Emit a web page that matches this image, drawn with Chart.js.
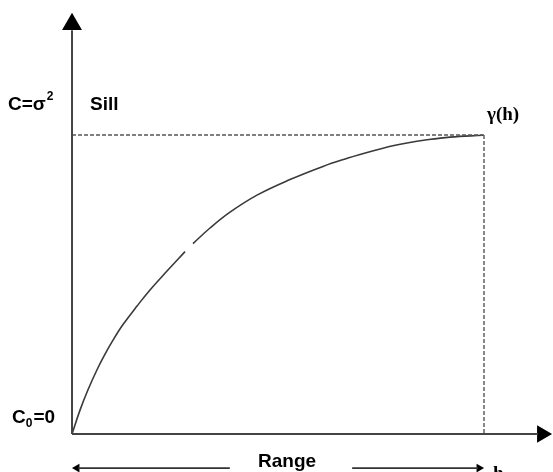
<!DOCTYPE html>
<html><head><meta charset="utf-8">
<script src="https://cdn.jsdelivr.net/npm/chart.js@4/dist/chart.umd.min.js"></script>
<style>html,body{margin:0;padding:0;background:#fff}#wrap{width:553px;height:472px;position:relative}</style>
</head><body><div id="wrap"><canvas id="c"></canvas></div>
<script>
// Semivariogram values (lag h in units where range = 10, gamma in units of sill)
const lagH   = [0, 0.194, 0.388, 0.607, 0.801, 0.995, 1.238, 1.578, 1.893, 2.306, 2.743, 2.84, 2.937, 3.350, 3.835, 4.490, 5.291, 6.092, 6.699, 6.990, 7.549, 8.131, 8.617, 9.175, 9.976];
const gammaH = [0, 0.080, 0.148, 0.215, 0.267, 0.314, 0.366, 0.428, 0.482, 0.545, 0.610, null, 0.637, 0.689, 0.742, 0.799, 0.851, 0.895, 0.923, 0.935, 0.956, 0.973, 0.984, 0.993, 0.999];
const sill = 1;
const nugget = 0;
const rangeH = 10;
const xAxisEnd = 11.41;
const yAxisEnd = 1.37;
const rangeArrowY = -0.114;
const rangeGap = [3.83, 6.80];

const ink = '#2b2b2b';
const curvePts = lagH.map((h, i) => ({x: h, y: gammaH[i]}));

const textPlugin = {
  id: 'labels',
  afterDraw(chart) {
    const ctx = chart.ctx;
    ctx.save();
    ctx.fillStyle = '#000';
    ctx.textBaseline = 'alphabetic';
    const sans = 'bold 19px "Liberation Sans", Arial, sans-serif';
    const sansSmall = 'bold 12px "Liberation Sans", Arial, sans-serif';
    const serif = 'bold 19px "Liberation Serif", "Times New Roman", serif';
    // C=σ²
    ctx.font = sans; ctx.fillText('C=σ', 8, 110);
    let w = ctx.measureText('C=σ').width;
    ctx.font = sansSmall; ctx.fillText('2', 8 + w + 1, 100);
    // Sill
    ctx.font = sans; ctx.fillText('Sill', 90, 110);
    // γ(h)
    ctx.font = serif; ctx.fillText('γ(h)', 487, 120);
    // C0=0
    ctx.font = sans; ctx.fillText('C', 12, 423);
    w = ctx.measureText('C').width;
    ctx.font = sansSmall; ctx.fillText('0', 12 + w, 427);
    const w2 = ctx.measureText('0').width;
    ctx.font = sans; ctx.fillText('=0', 12 + w + w2 + 1, 423);
    // Range
    ctx.font = sans; ctx.fillText('Range', 258, 467);
    // h
    ctx.font = serif; ctx.fillText('h', 493, 479);
    ctx.restore();
  }
};

const line = (data, extra) => Object.assign({
  data, showLine: true, pointRadius: 0, borderColor: ink, borderWidth: 2, fill: false, tension: 0
}, extra);

new Chart(document.getElementById('c'), {
  type: 'scatter',
  data: {
    datasets: [
      // axes
      line([{x: 0, y: nugget}, {x: 0, y: yAxisEnd - 0.02}], {borderColor: '#444'}),
      line([{x: 0, y: nugget}, {x: xAxisEnd - 0.1, y: nugget}], {borderColor: '#444'}),
      // sill and range dashed
      line([{x: 0, y: sill}, {x: rangeH, y: sill}], {borderColor: '#555', borderWidth: 1.4, borderDash: [4, 2]}),
      line([{x: rangeH, y: sill}, {x: rangeH, y: nugget}], {borderColor: '#555', borderWidth: 1.4, borderDash: [4, 2]}),
      // variogram curve
      line(curvePts, {borderColor: '#3a3a3a', borderWidth: 1.6, tension: 0.4, spanGaps: false}),
      // range arrow segments
      line([{x: 0.15, y: rangeArrowY}, {x: rangeGap[0], y: rangeArrowY}], {borderColor: '#333', borderWidth: 1.6}),
      line([{x: rangeGap[1], y: rangeArrowY}, {x: rangeH - 0.15, y: rangeArrowY}], {borderColor: '#333', borderWidth: 1.6}),
      // arrowheads
      {data: [{x: 0, y: yAxisEnd}], pointStyle: 'triangle', pointRadius: 11.5, pointRotation: 0, backgroundColor: '#000', borderColor: '#000', borderWidth: 0},
      {data: [{x: xAxisEnd, y: nugget}], pointStyle: 'triangle', pointRadius: 10, pointRotation: 90, backgroundColor: '#000', borderColor: '#000', borderWidth: 0},
      {data: [{x: 0.12, y: rangeArrowY}], pointStyle: 'triangle', pointRadius: 5, pointRotation: -90, backgroundColor: '#000', borderColor: '#000', borderWidth: 0},
      {data: [{x: rangeH - 0.12, y: rangeArrowY}], pointStyle: 'triangle', pointRadius: 5, pointRotation: 90, backgroundColor: '#000', borderColor: '#000', borderWidth: 0}
    ]
  },
  options: {
    responsive: true,
    maintainAspectRatio: false,
    animation: false,
    events: [],
    layout: {padding: 0, autoPadding: false},
    plugins: {legend: {display: false}, tooltip: {enabled: false}},
    scales: {
      x: {type: 'linear', display: false, min: -1.748, max: 11.675},
      y: {type: 'linear', display: false, min: -0.127, max: 1.4515}
    }
  },
  plugins: [textPlugin]
});
</script>
</body></html>
